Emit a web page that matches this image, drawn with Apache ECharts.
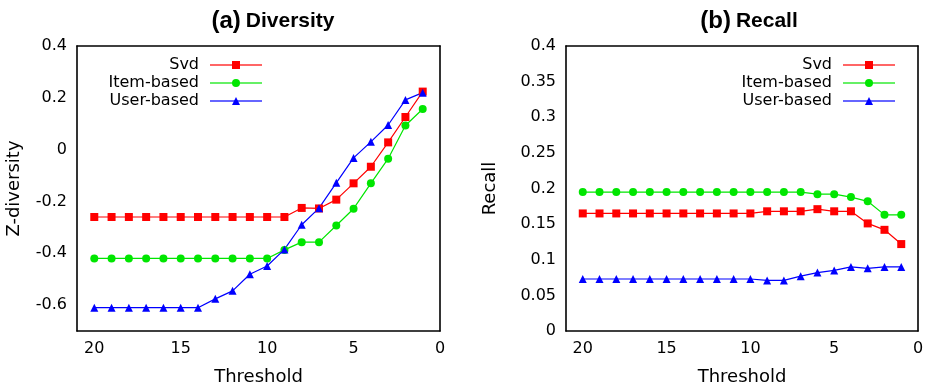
<!DOCTYPE html>
<html><head><meta charset="utf-8">
<script src="https://cdn.jsdelivr.net/npm/echarts@6/dist/echarts.min.js"></script>
<style>html,body{margin:0;padding:0;background:#fff}#c{width:934px;height:391px}</style>
</head><body><div id="c"></div>
<script>
const thresholds = [20,19,18,17,16,15,14,13,12,11,10,9,8,7,6,5,4,3,2,1];
const seriesNames = ['Svd','Item-based','User-based'];
const xTicks = [0,5,10,15,20];
const divTicks = [-0.6,-0.4,-0.2,0,0.2,0.4];
const recTicks = [0,0.05,0.1,0.15,0.2,0.25,0.3,0.35,0.4];
// (a) Diversity: Z-diversity
const divSvd  = [-0.26,-0.26,-0.26,-0.26,-0.26,-0.26,-0.26,-0.26,-0.26,-0.26,-0.26,-0.26,-0.225,-0.227,-0.193,-0.13,-0.066,0.028,0.126,0.224];
const divItem = [-0.42,-0.42,-0.42,-0.42,-0.42,-0.42,-0.42,-0.42,-0.42,-0.42,-0.42,-0.387,-0.357,-0.357,-0.293,-0.228,-0.13,-0.035,0.093,0.157];
const divUser = [-0.61,-0.61,-0.61,-0.61,-0.61,-0.61,-0.61,-0.576,-0.545,-0.481,-0.449,-0.385,-0.29,-0.226,-0.128,-0.032,0.03,0.095,0.192,0.22];
// (b) Recall
const recSvd  = [0.165,0.165,0.165,0.165,0.165,0.165,0.165,0.165,0.165,0.165,0.165,0.168,0.168,0.168,0.171,0.168,0.168,0.151,0.142,0.122];
const recItem = [0.195,0.195,0.195,0.195,0.195,0.195,0.195,0.195,0.195,0.195,0.195,0.195,0.195,0.195,0.192,0.192,0.188,0.182,0.163,0.163];
const recUser = [0.073,0.073,0.073,0.073,0.073,0.073,0.073,0.073,0.073,0.073,0.073,0.071,0.071,0.077,0.082,0.085,0.09,0.088,0.09,0.09];

const FONT = 'DejaVu Sans';
const TFONT = 'Liberation Sans';
const colors = ['#ff0000','#00e600','#0000ff'];
const symbols = ['rect','circle','triangle'];

const pair = vals => thresholds.map((t,i)=>[t, vals[i]]);

function axisLine(){ return {show:true, onZero:false, lineStyle:{color:'#000', width:1.6}}; }
const xFmt = v => (v > 20.5 ? '' : String(v));
const divFmt = v => (v < -0.65 ? '' : String(Math.round(v * 10) / 10));

function xAxes(gi){
  return [
    {gridIndex:gi, type:'value', min:0, max:21, interval:5, inverse:true, position:'bottom',
     axisLine:axisLine(), axisTick:{show:false}, splitLine:{show:false},
     axisLabel:{fontFamily:FONT, fontSize:16, color:'#000', margin:10, formatter:xFmt},
     name:'Threshold', nameLocation:'middle', nameGap:37,
     nameTextStyle:{fontFamily:FONT, fontSize:18, color:'#000'}},
    {gridIndex:gi, type:'value', min:0, max:21, interval:5, inverse:true, position:'top',
     axisLine:axisLine(), axisTick:{show:false}, splitLine:{show:false}, axisLabel:{show:false}}
  ];
}
function yAxes(gi, min, max, interval, name, gap, fmt){
  const base = {gridIndex:gi, type:'value', min:min, max:max};
  if (interval) base.interval = interval;
  const label = {fontFamily:FONT, fontSize:16, color:'#000', margin:10};
  if (fmt) label.formatter = fmt;
  return [
    Object.assign({}, base, {position:'left',
     axisLine:axisLine(), axisTick:{show:false}, splitLine:{show:false},
     axisLabel:label,
     name:name, nameLocation:'middle', nameGap:gap,
     nameTextStyle:{fontFamily:FONT, fontSize:18, color:'#000'}}),
    Object.assign({}, base, {position:'right',
     axisLine:axisLine(), axisTick:{show:false}, splitLine:{show:false}, axisLabel:{show:false}})
  ];
}
function mkSeries(gi, dataSets){
  return dataSets.map((d,i)=>({
    name: seriesNames[i], type:'line', xAxisIndex: gi*2, yAxisIndex: gi*2,
    data: pair(d), symbol: symbols[i], symbolSize: 8,
    lineStyle:{color:colors[i], width:1.2}, itemStyle:{color:colors[i]},
    animation:false
  }));
}
function legend(right){
  return {
    orient:'vertical', align:'right', right:right, top:57, padding:0,
    itemWidth:52, itemHeight:10, itemGap:2,
    lineStyle:{width:2, opacity:0.6},
    textStyle:{fontFamily:FONT, fontSize:16, color:'#000', lineHeight:16, padding:[0,6,0,0]},
    data: seriesNames
  };
}
function title(label, word, cx){
  return {text:'{a|' + label + '} {b|' + word + '}', left:cx, top:4, textAlign:'center',
    textStyle:{rich:{
      a:{fontFamily:TFONT, fontWeight:'bold', fontSize:24, color:'#000'},
      b:{fontFamily:TFONT, fontWeight:'bold', fontSize:21, color:'#000'}}}};
}

const chart = echarts.init(document.getElementById('c'), null, {renderer:'canvas'});

// gnuplot-style inward tick marks on all four sides, placed through the axes' own scales
function tickLine(x1,y1,x2,y2){
  return {type:'line', silent:true, z:100, shape:{x1:x1,y1:y1,x2:x2,y2:y2}, style:{stroke:'#000', lineWidth:1}};
}
let ticksDone = false;
function addTicks(){
  if (ticksDone) return;
  const els = [];
  const specs = [{g:0, ymin:-0.7, ymax:0.4, yt:divTicks}, {g:1, ymin:0, ymax:0.4, yt:recTicks}];
  const L = 8;
  specs.forEach(s => {
    const xi = s.g*2, yi = s.g*2;
    const xL = chart.convertToPixel({xAxisIndex:xi}, 21);
    const xR = chart.convertToPixel({xAxisIndex:xi}, 0);
    const yT = chart.convertToPixel({yAxisIndex:yi}, s.ymax);
    const yB = chart.convertToPixel({yAxisIndex:yi}, s.ymin);
    if (![xL,xR,yT,yB].every(isFinite)) return;
    xTicks.forEach(v => {
      const px = chart.convertToPixel({xAxisIndex:xi}, v);
      if (px > xL + 1 && px < xR - 1) {
        els.push(tickLine(px, yB, px, yB - L));
        els.push(tickLine(px, yT, px, yT + L));
      }
    });
    s.yt.forEach(v => {
      const py = chart.convertToPixel({yAxisIndex:yi}, v);
      if (py > yT + 1 && py < yB - 1) {
        els.push(tickLine(xL, py, xL + L, py));
        els.push(tickLine(xR, py, xR - L, py));
      }
    });
  });
  if (els.length) {
    ticksDone = true;
    chart.setOption({graphic:[{type:'group', z:100, children:els}]});
  }
}
chart.on('finished', () => { try { addTicks(); } catch (e) { console.error(e); } });

try {
  chart.setOption({
    animation:false,
    backgroundColor:'#fff',
    title:[title('(a)','Diversity',268), title('(b)','Recall',744)],
    legend:[legend(671), legend(38)],
    grid:[
      {left:77, top:46, width:363, height:285},
      {left:566, top:46, width:352, height:285}
    ],
    xAxis:[...xAxes(0), ...xAxes(1)],
    yAxis:[...yAxes(0,-0.7,0.4,null,'Z-diversity',54,divFmt), ...yAxes(1,0,0.4,0.05,'Recall',67,null)],
    series:[...mkSeries(0,[divSvd,divItem,divUser]), ...mkSeries(1,[recSvd,recItem,recUser])]
  });
} catch (e) { console.error('setOption failed', e); }
try { addTicks(); } catch (e) { console.error('ticks failed', e); }
setTimeout(() => { try { addTicks(); } catch (e) { console.error(e); } }, 50);
</script></body></html>
